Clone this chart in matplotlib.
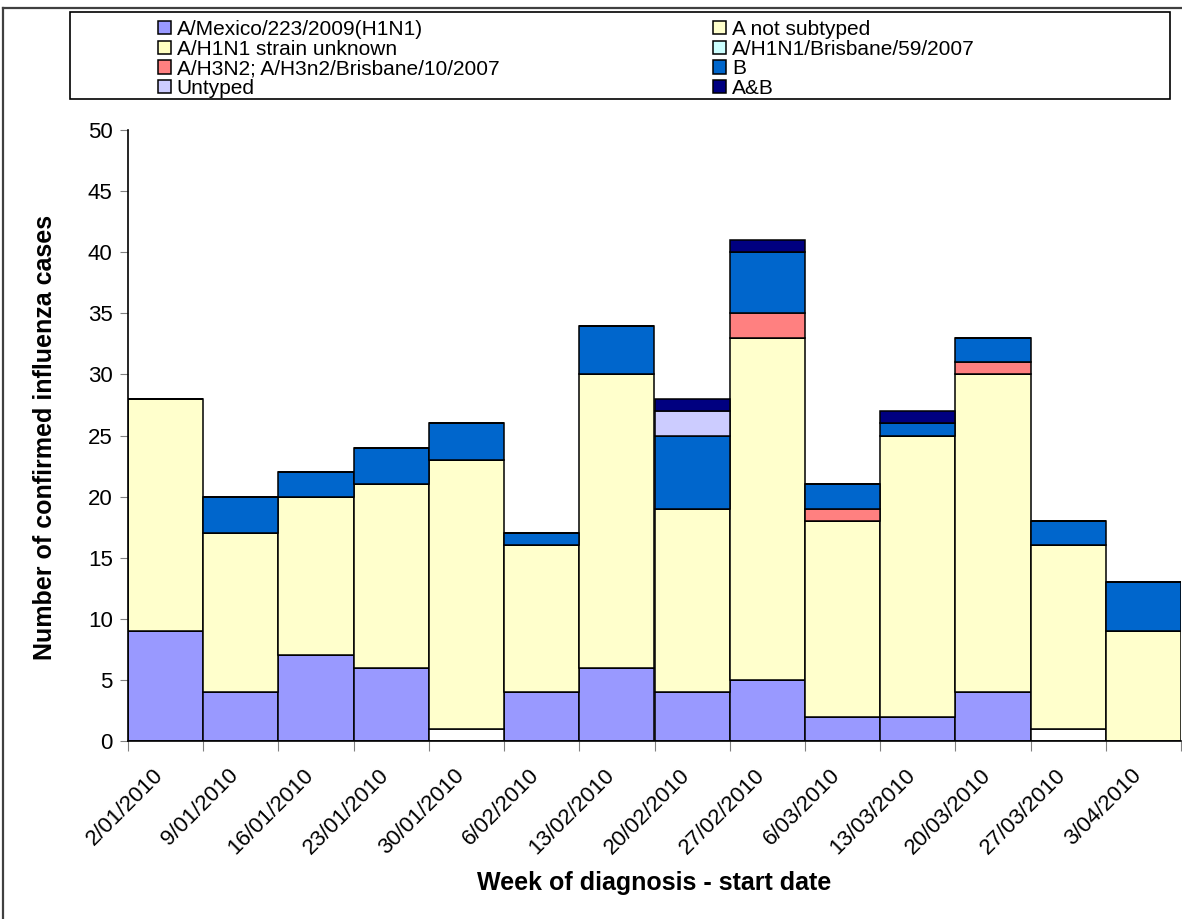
import matplotlib.pyplot as plt
from matplotlib.lines import Line2D
from matplotlib.patches import Rectangle
from matplotlib.transforms import ScaledTranslation
import numpy as np

plt.rcParams['font.family'] = ['Liberation Sans', 'DejaVu Sans']

weeks = ['2/01/2010', '9/01/2010', '16/01/2010', '23/01/2010', '30/01/2010',
         '6/02/2010', '13/02/2010', '20/02/2010', '27/02/2010', '6/03/2010',
         '13/03/2010', '20/03/2010', '27/03/2010', '3/04/2010']

# stacked from the bottom up
mexico = [9, 4, 7, 6, 0, 4, 6, 4, 5, 2, 2, 4, 0, 0]
blank = [0, 0, 0, 0, 1, 0, 0, 0, 0, 0, 0, 0, 1, 0]   # white segment, not in key
not_subtyped = [19, 13, 13, 15, 22, 12, 24, 15, 28, 16, 23, 26, 15, 9]
h1n1_unknown = [0] * 14
h1n1_brisbane = [0] * 14
h3n2 = [0, 0, 0, 0, 0, 0, 0, 0, 2, 1, 0, 1, 0, 0]
flu_b = [0, 3, 2, 3, 3, 1, 4, 6, 5, 2, 1, 2, 2, 4]
untyped = [0, 0, 0, 0, 0, 0, 0, 2, 0, 0, 0, 0, 0, 0]
a_and_b = [0, 0, 0, 0, 0, 0, 0, 1, 1, 0, 1, 0, 0, 0]

series = [
    ("A/Mexico/223/2009(H1N1)", mexico, "#9999FF"),
    ("_blank", blank, "#FFFFFF"),
    ("A not subtyped", not_subtyped, "#FFFFCC"),
    ("A/H1N1 strain unknown", h1n1_unknown, "#FFFFC0"),
    ("A/H1N1/Brisbane/59/2007", h1n1_brisbane, "#CCFFFF"),
    ("A/H3N2; A/H3n2/Brisbane/10/2007", h3n2, "#FF8080"),
    ("B", flu_b, "#0066CC"),
    ("Untyped", untyped, "#CCCCFF"),
    ("A&B", a_and_b, "#000080"),
]

W, H = 1182, 919
fig = plt.figure(figsize=(W / 100, H / 100), dpi=100)
ax = fig.add_axes([128 / W, 1 - 741 / H, 1053 / W, 611 / H])

x = np.arange(len(weeks))
bottom = np.zeros(len(weeks))
handles = {}
for name, vals, col in series:
    vals = np.array(vals, dtype=float)
    bars = ax.bar(x, vals, width=1.0, bottom=bottom, align="edge",
                  color=col, edgecolor="black", linewidth=1.1, zorder=2)
    handles[name] = bars
    bottom += vals

ax.set_xlim(0, 14)
ax.set_ylim(0, 50)
ax.set_yticks(range(0, 51, 5))
ax.tick_params(axis="y", labelsize=16, length=6, color="#808080", pad=5)
ax.set_xticks(range(0, 15))
ax.set_xticklabels([])
ax.tick_params(axis="x", which="major", length=7, color="#808080")
ax.set_xticks(x + 0.5, minor=True)
ax.set_xticklabels(weeks, minor=True, rotation=45, ha="right",
                   rotation_mode="anchor", fontsize=16)
ax.tick_params(axis="x", which="minor", length=0, pad=17)
shift = ScaledTranslation(-13 / 100, 0, fig.dpi_scale_trans)
for lab in ax.get_xticklabels(minor=True):
    lab.set_transform(lab.get_transform() + shift)
for s in ["top", "right"]:
    ax.spines[s].set_visible(False)
ax.spines["left"].set_linewidth(1.2)
ax.spines["bottom"].set_linewidth(1.2)

fig.text(45 / W, 1 - 437 / H, "Number of confirmed influenza cases",
         rotation=90, ha="center", va="center", fontsize=18, fontweight="bold")
fig.text(654 / W, 1 - 883 / H, "Week of diagnosis - start date",
         ha="center", va="center", fontsize=18, fontweight="bold")

# key box and outer frame
fig.patches.append(Rectangle((70 / W, 1 - 99 / H), 1100 / W, 87 / H,
                             transform=fig.transFigure, fill=False,
                             edgecolor="black", linewidth=1.2))
fig.lines.append(Line2D([3 / W, 1], [1 - 8 / H, 1 - 8 / H],
                        transform=fig.transFigure, color="#404040", lw=1.6))
fig.lines.append(Line2D([3 / W, 3 / W], [0, 1 - 8 / H],
                        transform=fig.transFigure, color="#404040", lw=1.6))

col1 = ["A/Mexico/223/2009(H1N1)", "A/H1N1 strain unknown",
        "A/H3N2; A/H3n2/Brisbane/10/2007", "Untyped"]
col2 = ["A not subtyped", "A/H1N1/Brisbane/59/2007", "B", "A&B"]
for names, x0 in [(col1, 158), (col2, 713)]:
    fig.legend([handles[n] for n in names], names, loc="upper left",
               bbox_to_anchor=(x0 / W, 1 - 20 / H), frameon=False,
               fontsize=15, labelspacing=0.03, handlelength=0.6,
               handleheight=0.6, handletextpad=0.3, borderpad=0,
               borderaxespad=0)

fig.savefig("out.png", dpi=100)
